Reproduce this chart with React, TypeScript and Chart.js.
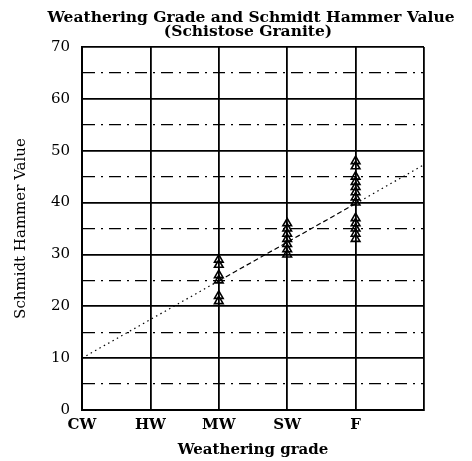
import React, { useEffect, useRef } from 'react';
import { Chart, registerables } from 'chart.js';

Chart.register(...registerables);

const grades = ['CW', 'HW', 'MW', 'SW', 'F'];
const mwValues = [21, 22, 25, 26, 28, 29];
const swValues = [30, 31, 32, 33, 34, 35, 36];
const fValues = [33, 34, 35, 36, 37, 40, 41, 42, 43, 44, 45, 47, 48];
const fitX = [0, 2, 4, 5];
const fitY = [10, 24.9, 39.8, 47.3];
const titleLines = ['Weathering Grade and Schmidt Hammer Value', '(Schistose Granite)'];

const FONT = "'DejaVu Serif', 'Liberation Serif', serif";

const titlePlugin = {
  id: 'twoLineTitle',
  afterDraw(chart: any) {
    const { ctx, chartArea } = chart;
    const cx = (chartArea.left + chartArea.right) / 2;
    ctx.save();
    ctx.fillStyle = '#000';
    ctx.font = `bold 15.5px ${FONT}`;
    ctx.textAlign = 'center';
    ctx.textBaseline = 'alphabetic';
    ctx.fillText(titleLines[0], cx - 2, 22);
    ctx.fillText(titleLines[1], cx - 5, 36);
    ctx.restore();
  },
};

export default function App() {
  const ref = useRef<HTMLCanvasElement | null>(null);

  useEffect(() => {
    document.body.style.margin = '0';
    const canvas = ref.current;
    if (!canvas) return;
    Chart.defaults.color = '#000';

    const pts = [
      ...mwValues.map((v) => ({ x: grades.indexOf('MW'), y: v })),
      ...swValues.map((v) => ({ x: grades.indexOf('SW'), y: v })),
      ...fValues.map((v) => ({ x: grades.indexOf('F'), y: v })),
    ];
    const fit = fitX.map((x, i) => ({ x, y: fitY[i] }));

    const chart = new Chart(canvas, {
      type: 'scatter',
      data: {
        datasets: [
          {
            type: 'line',
            data: fit,
            borderColor: '#000',
            borderWidth: 1.2,
            pointRadius: 0,
            fill: false,
            segment: {
              borderDash: (ctx: any) =>
                ctx.p0.parsed.x >= 2 && ctx.p1.parsed.x <= 4 ? [5, 3] : [1.5, 3.5],
            },
          } as any,
          {
            data: pts,
            pointStyle: 'triangle',
            pointRadius: 5,
            borderColor: '#000',
            borderWidth: 1.6,
            backgroundColor: 'rgba(255,255,255,0)',
          },
        ],
      },
      plugins: [titlePlugin],
      options: {
        responsive: false,
        animation: false,
        layout: { padding: { left: 8, right: 48, top: 47, bottom: 0 } },
        plugins: {
          legend: { display: false },
          tooltip: { enabled: false },
          title: { display: false },
        },
        scales: {
          x: {
            type: 'linear',
            min: 0,
            max: 5,
            afterFit: (s: any) => {
              s.height = 51;
            },
            ticks: {
              stepSize: 1,
              autoSkip: false,
              color: '#000',
              padding: 6,
              font: { family: FONT, size: 15, weight: 'bold' },
              callback: (v: any) => grades[v] ?? '',
            },
            grid: { color: '#000', lineWidth: 1.8, drawTicks: false },
            border: { color: '#000', width: 2 },
            title: {
              display: true,
              text: 'Weathering grade',
              color: '#000',
              font: { family: FONT, size: 15, weight: 'bold' },
              padding: { top: 0, bottom: 2 },
            },
          },
          y: {
            type: 'linear',
            min: 0,
            max: 70,
            afterFit: (s: any) => {
              s.width = 74;
            },
            ticks: {
              stepSize: 5,
              autoSkip: false,
              color: '#000',
              padding: 12,
              font: { family: FONT, size: 15 },
              callback: (v: any) => (Number(v) % 10 === 0 ? String(v) : ''),
            },
            grid: {
              color: '#000',
              lineWidth: (ctx: any) => (ctx.tick && ctx.tick.value % 10 !== 0 ? 1.2 : 1.8),
              drawTicks: false,
            },
            border: {
              color: '#000',
              width: 2,
              dash: (ctx: any) => (ctx.tick && ctx.tick.value % 10 !== 0 ? [12, 6, 2, 6] : []),
            } as any,
            title: {
              display: true,
              text: 'Schmidt Hammer Value',
              color: '#000',
              font: { family: FONT, size: 15 },
              padding: { top: 4, bottom: 4 },
            },
          },
        },
      } as any,
    });
    return () => chart.destroy();
  }, []);

  return (
    <div style={{ position: 'absolute', left: 0, top: 0, width: 472, height: 461 }}>
      <canvas ref={ref} width={472} height={461} />
    </div>
  );
}
